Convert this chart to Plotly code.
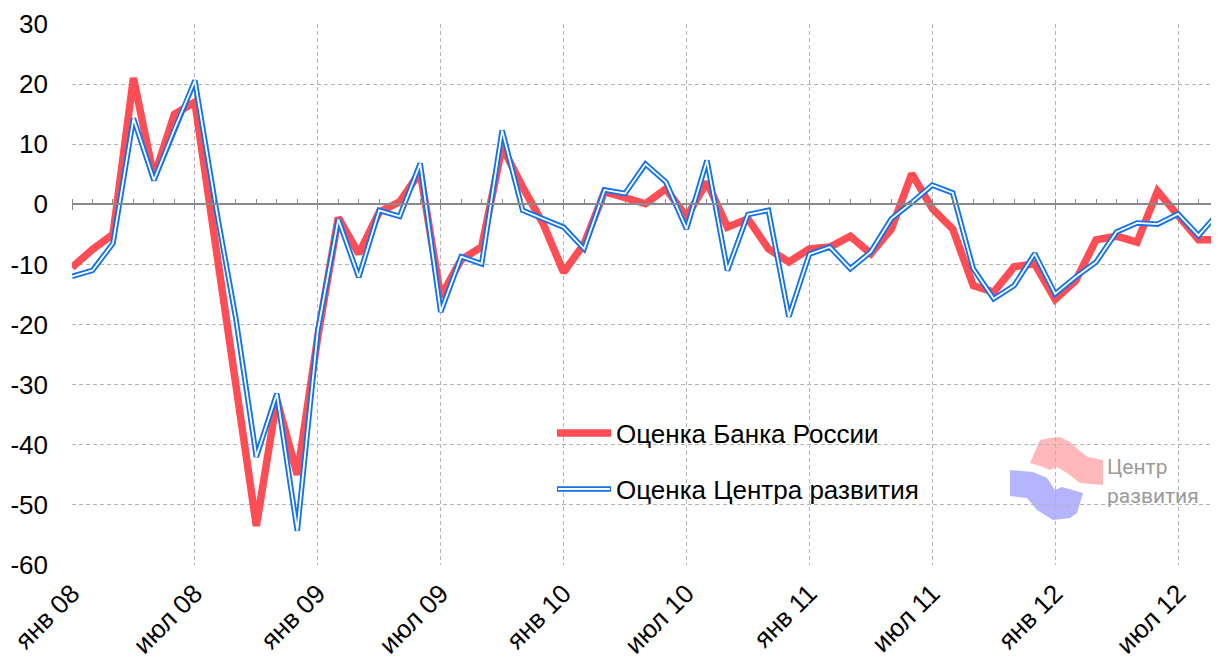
import plotly.graph_objects as go

months = list(range(57))
tick_vals = [0, 6, 12, 18, 24, 30, 36, 42, 48, 54]
tick_text = ["янв 08", "июл 08", "янв 09", "июл 09", "янв 10",
             "июл 10", "янв 11", "июл 11", "янв 12", "июл 12"]
y_ticks = [30, 20, 10, 0, -10, -20, -30, -40, -50, -60]

bank_russia = [-10.5, -7.5, -5, 21, 4.5, 15, 17, -6, -30, -53.5, -32.5, -45, -22,
               -2.2, -8.2, -1.3, 0.4, 5.4, -15.4, -9.2, -7.1, 9.6, 2.9, -3.2, -11.3,
               -6.6, 2.1, 1.2, 0.1, 2.6, -2.1, 3.7, -3.8, -2.4, -7.4, -9.6, -7.4,
               -7.1, -5.3, -8.2, -4.1, 5.1, -0.7, -4.1, -13.5, -14.6, -10.4, -9.9,
               -15.8, -12.7, -5.9, -5.3, -6.3, 2.2, -1.8, -5.9, -5.9]
dev_center = [-12, -11, -6.5, 14.3, 4, 12.5, 20.6, 0, -19, -42, -31.5, -54.3, -21,
              -2.5, -12.1, -1.0, -2.0, 6.8, -17.9, -8.7, -9.9, 12.3, -1.0, -2.4, -3.8,
              -7.4, 2.4, 1.8, 6.7, 3.7, -4.1, 7.3, -11, -1.7, -1.0, -18.7, -8.3,
              -7.1, -10.7, -7.9, -2.4, 0.3, 3.2, 1.9, -10.7, -15.7, -13.5, -8.2,
              -14.9, -12.1, -9.6, -4.6, -3.1, -3.3, -1.6, -5.2, -1.3]

label_bank = "Оценка Банка России"
label_dev = "Оценка Центра развития"

RED = "#FF4D55"
BLUE = "#1272EC"
OFF = 8  # page body margin
W, H = 1219 - OFF, 663 - OFF
ML, MR, MT, MB = 72 - OFF, 0, 24 - OFF, 98
PW, PH = W - ML - MR, H - MT - MB

def px(x):
    return (x - OFF - ML) / PW

def py(y):
    return 1 - (y - OFF - MT) / PH

fig = go.Figure()
fig.add_trace(go.Scatter(x=months, y=bank_russia, mode="lines",
                         line=dict(color=RED, width=7.5), showlegend=False))
fig.add_trace(go.Scatter(x=months, y=dev_center, mode="lines",
                         line=dict(color=BLUE, width=5.5), showlegend=False))
fig.add_trace(go.Scatter(x=months, y=dev_center, mode="lines",
                         line=dict(color="white", width=1.8), showlegend=False))

grid = dict(gridcolor="#b4b4b4", gridwidth=1, griddash="4px,3px")
fig.update_layout(
    width=W, height=H,
    margin=dict(l=ML, r=MR, t=MT, b=MB, autoexpand=False),
    plot_bgcolor="white", paper_bgcolor="white",
    font=dict(family="Liberation Sans, Arial, sans-serif", color="black"),
    xaxis=dict(range=[0, 56], tickmode="array", tickvals=tick_vals, ticktext=tick_text,
               tickangle=-45, tickfont=dict(size=26), showgrid=True, zeroline=False,
               showline=False, ticks="", automargin=False, ticklabelstandoff=7, **grid),
    yaxis=dict(range=[-60, 30], tickmode="array", tickvals=y_ticks,
               ticktext=[str(v) for v in y_ticks], tickfont=dict(size=26),
               showgrid=True, zeroline=False, showline=False, ticks="",
               automargin=False, ticklabelstandoff=23, **grid),
    xaxis2=dict(range=[0, 56], overlaying="x", anchor="free", position=60 / 90,
                side="top", showline=True, linecolor="#8a8a8a", linewidth=1.5,
                ticks="outside", tickvals=months, ticklen=5, tickcolor="#8a8a8a",
                showticklabels=False, showgrid=False, zeroline=False, automargin=False),
    xaxis3=dict(range=[0, 56], overlaying="x", anchor="free", position=60 / 90,
                side="bottom", showline=False, ticks="outside", tickvals=tick_vals,
                ticklen=5, tickcolor="#8a8a8a", showticklabels=False, showgrid=False,
                zeroline=False, automargin=False),
)
# dummy traces so the overlay axes are drawn
fig.add_trace(go.Scatter(x=[0], y=[None], xaxis="x2", showlegend=False, hoverinfo="skip"))
fig.add_trace(go.Scatter(x=[0], y=[None], xaxis="x3", showlegend=False, hoverinfo="skip"))

shapes = []
# legend samples
shapes.append(dict(type="line", xref="paper", yref="paper", x0=px(557), x1=px(611),
                   y0=py(433), y1=py(433), line=dict(color=RED, width=7.5)))
shapes.append(dict(type="line", xref="paper", yref="paper", x0=px(557), x1=px(611),
                   y0=py(489), y1=py(489), line=dict(color=BLUE, width=5.5)))
shapes.append(dict(type="line", xref="paper", yref="paper", x0=px(558), x1=px(610),
                   y0=py(489), y1=py(489), line=dict(color="white", width=1.8)))

def path(pts):
    return "M " + " L ".join(f"{px(a):.5f},{py(b):.5f}" for a, b in pts) + " Z"

pink = [(1030, 463), (1040, 440), (1050, 438), (1060, 437), (1070, 442), (1080, 451),
        (1088, 457), (1103, 460), (1103, 485), (1080, 483), (1067, 473), (1057, 467),
        (1050, 470), (1040, 466)]
blue_logo = [(1010, 470), (1033, 472), (1047, 478), (1055, 490), (1062, 487), (1083, 493),
             (1077, 513), (1070, 518), (1053, 520), (1037, 510), (1027, 498), (1010, 496)]
shapes.append(dict(type="path", xref="paper", yref="paper", path=path(pink),
                   fillcolor="rgba(255,120,125,0.52)", line=dict(width=0), layer="below"))
shapes.append(dict(type="path", xref="paper", yref="paper", path=path(blue_logo),
                   fillcolor="rgba(105,105,255,0.5)", line=dict(width=0), layer="below"))
fig.update_layout(shapes=shapes)

ann = [
    dict(text=label_bank, x=px(614), y=py(434), xanchor="left", yanchor="middle",
         font=dict(size=26, color="black")),
    dict(text=label_dev, x=px(614), y=py(490), xanchor="left", yanchor="middle",
         font=dict(size=26, color="black")),
    dict(text="Центр", x=px(1105), y=py(467), xanchor="left", yanchor="middle",
         font=dict(size=21, color="#9a9a9a", family="Roboto")),
    dict(text="развития", x=px(1105), y=py(496), xanchor="left", yanchor="middle",
         font=dict(size=21, color="#9a9a9a", family="Roboto")),
]
for a in ann:
    a.update(xref="paper", yref="paper", showarrow=False)
fig.update_layout(annotations=ann)

fig.write_html("out.html")
